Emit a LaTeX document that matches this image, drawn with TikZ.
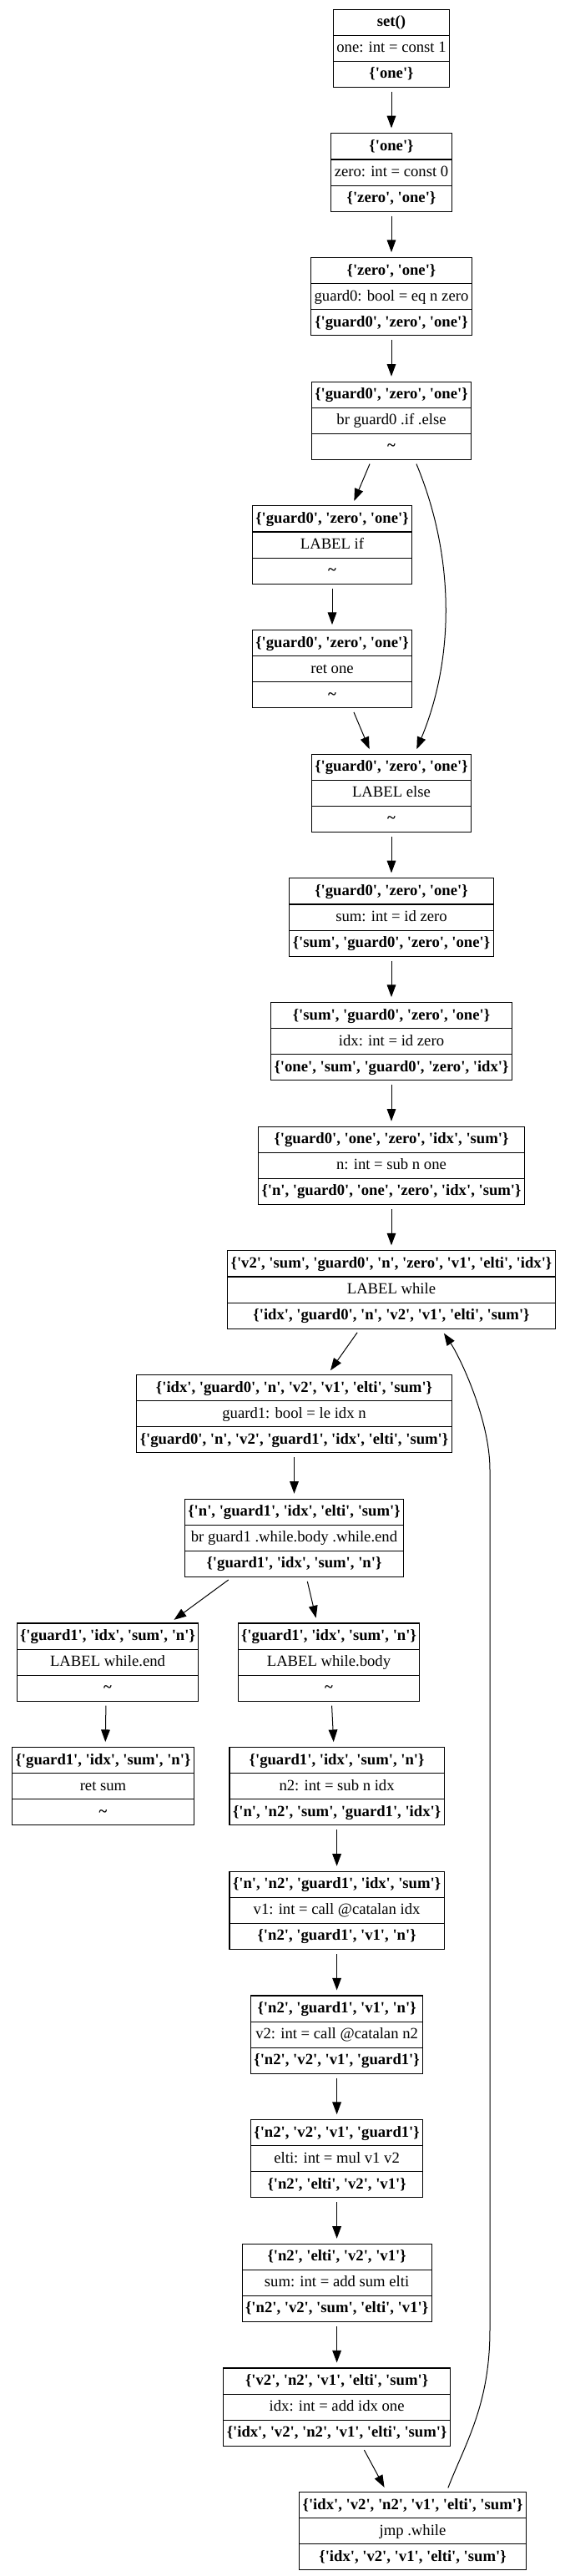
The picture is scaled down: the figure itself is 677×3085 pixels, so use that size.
\documentclass[tikz,border=0pt]{standalone}
\usepackage{fontspec}
\setmainfont{Liberation Serif}[Ligatures=TeXOff]
\usetikzlibrary{shapes.multipart,arrows.meta}
\newcommand{\rw}{\rule[-7.5pt]{0pt}{22.5pt}}
\newcommand{\bx}[3]{\rw\textbf{#1}\nodepart{two}\rw#2\nodepart{three}\rw\textbf{#3}}
\newcommand{\nil}{\textasciitilde}
\begin{document}
\begin{tikzpicture}[x=0.75pt,y=0.75pt,
	blk/.style={rectangle split,rectangle split parts=3,draw,line width=0.8pt,
		inner xsep=3pt,inner ysep=0pt,anchor=north,font=\fontsize{14pt}{16pt}\selectfont},
	edge/.style={line width=0.75pt,-{Triangle[length=11pt,width=8pt]},shorten <=3.75pt,shorten >=4.5pt}]
	\def\rk(#1){-10.7-148.67*(#1-1)}
	\fill[white] (0,0) rectangle (677,-3085);
	% main column
	\node[blk] (n1) at (469,{\rk(1)}) {\bx{set()}{one: int = const 1}{\{'one'\}}};
	\node[blk] (n2) at (469,{\rk(2)}) {\bx{\{'one'\}}{zero: int = const 0}{\{'zero', 'one'\}}};
	\node[blk] (n3) at (469,{\rk(3)}) {\bx{\{'zero', 'one'\}}{guard0: bool = eq n zero}{\{'guard0', 'zero', 'one'\}}};
	\node[blk] (n4) at (469,{\rk(4)}) {\bx{\{'guard0', 'zero', 'one'\}}{br guard0 .if .else}{\nil}};
	\node[blk] (n5) at (398,{\rk(5)}) {\bx{\{'guard0', 'zero', 'one'\}}{LABEL if}{\nil}};
	\node[blk] (n6) at (398,{\rk(6)}) {\bx{\{'guard0', 'zero', 'one'\}}{ret one}{\nil}};
	\node[blk] (n7) at (469,{\rk(7)}) {\bx{\{'guard0', 'zero', 'one'\}}{LABEL else}{\nil}};
	\node[blk] (n8) at (469,{\rk(8)}) {\bx{\{'guard0', 'zero', 'one'\}}{sum: int = id zero}{\{'sum', 'guard0', 'zero', 'one'\}}};
	\node[blk] (n9) at (469,{\rk(9)}) {\bx{\{'sum', 'guard0', 'zero', 'one'\}}{idx: int = id zero}{\{'one', 'sum', 'guard0', 'zero', 'idx'\}}};
	\node[blk] (n10) at (469,{\rk(10)}) {\bx{\{'guard0', 'one', 'zero', 'idx', 'sum'\}}{n: int = sub n one}{\{'n', 'guard0', 'one', 'zero', 'idx', 'sum'\}}};
	\node[blk] (n11) at (469,{\rk(11)}) {\bx{\{'v2', 'sum', 'guard0', 'n', 'zero', 'v1', 'elti', 'idx'\}}{LABEL while}{\{'idx', 'guard0', 'n', 'v2', 'v1', 'elti', 'sum'\}}};
	% loop
	\node[blk] (n12) at (352.5,{\rk(12)}) {\bx{\{'idx', 'guard0', 'n', 'v2', 'v1', 'elti', 'sum'\}}{guard1: bool = le idx n}{\{'guard0', 'n', 'v2', 'guard1', 'idx', 'elti', 'sum'\}}};
	\node[blk] (n13) at (352.5,{\rk(13)}) {\bx{\{'n', 'guard1', 'idx', 'elti', 'sum'\}}{br guard1 .while.body .while.end}{\{'guard1', 'idx', 'sum', 'n'\}}};
	\node[blk] (n14) at (129,{\rk(14)}) {\bx{\{'guard1', 'idx', 'sum', 'n'\}}{LABEL while.end}{\nil}};
	\node[blk] (n15) at (394,{\rk(14)}) {\bx{\{'guard1', 'idx', 'sum', 'n'\}}{LABEL while.body}{\nil}};
	\node[blk] (n16) at (123.5,{\rk(15)}) {\bx{\{'guard1', 'idx', 'sum', 'n'\}}{ret sum}{\nil}};
	\node[blk] (n17) at (403.6,{\rk(15)}) {\bx{\{'guard1', 'idx', 'sum', 'n'\}}{n2: int = sub n idx}{\{'n', 'n2', 'sum', 'guard1', 'idx'\}}};
	\node[blk] (n18) at (403.6,{\rk(16)}) {\bx{\{'n', 'n2', 'guard1', 'idx', 'sum'\}}{v1: int = call @catalan idx}{\{'n2', 'guard1', 'v1', 'n'\}}};
	\node[blk] (n19) at (403.6,{\rk(17)}) {\bx{\{'n2', 'guard1', 'v1', 'n'\}}{v2: int = call @catalan n2}{\{'n2', 'v2', 'v1', 'guard1'\}}};
	\node[blk] (n20) at (403.6,{\rk(18)}) {\bx{\{'n2', 'v2', 'v1', 'guard1'\}}{elti: int = mul v1 v2}{\{'n2', 'elti', 'v2', 'v1'\}}};
	\node[blk] (n21) at (403.6,{\rk(19)}) {\bx{\{'n2', 'elti', 'v2', 'v1'\}}{sum: int = add sum elti}{\{'n2', 'v2', 'sum', 'elti', 'v1'\}}};
	\node[blk] (n22) at (403.6,{\rk(20)}) {\bx{\{'v2', 'n2', 'v1', 'elti', 'sum'\}}{idx: int = add idx one}{\{'idx', 'v2', 'n2', 'v1', 'elti', 'sum'\}}};
	\node[blk] (n23) at (494.5,{\rk(21)}) {\bx{\{'idx', 'v2', 'n2', 'v1', 'elti', 'sum'\}}{jmp .while}{\{'idx', 'v2', 'v1', 'elti', 'sum'\}}};
	% edges
	\foreach \a/\b in {n1/n2,n2/n3,n3/n4,n5/n6,n7/n8,n8/n9,n9/n10,n10/n11,n12/n13,n17/n18,n18/n19,n19/n20,n20/n21,n21/n22}
		\draw[edge] (\a.south) -- (\b.north);
	\draw[edge] ([xshift=-18pt]n4.south) -- ([xshift=18pt]n5.north);
	\draw[edge] ([xshift=21pt]n4.south) .. controls +(48,-115) and +(48,115) .. ([xshift=21pt]n7.north);
	\draw[edge] ([xshift=18pt]n6.south) -- ([xshift=-18pt]n7.north);
	\draw[edge] ([xshift=-28.5pt]n11.south) -- ([xshift=30pt]n12.north);
	\draw[edge] ([xshift=-56pt]n13.south) -- ([xshift=56pt]n14.north);
	\draw[edge] ([xshift=11pt]n13.south) -- ([xshift=-10.5pt]n15.north);
	\draw[edge] ([xshift=-1.5pt]n14.south) -- ([xshift=2pt]n16.north);
	\draw[edge] ([xshift=2.5pt]n15.south) -- ([xshift=-2.7pt]n17.north);
	\draw[edge] ([xshift=22.8pt]n22.south) -- ([xshift=-23.3pt]n23.north);
	% back edge of the loop
	\draw[edge] ([xshift=30.4pt]n23.north) .. controls (558,-2925) and (587,-2880) .. (587,-2790)
		-- (587,-1760) .. controls (587,-1700) and (551,-1625) .. ([xshift=44.7pt]n11.south);
\end{tikzpicture}
\end{document}
